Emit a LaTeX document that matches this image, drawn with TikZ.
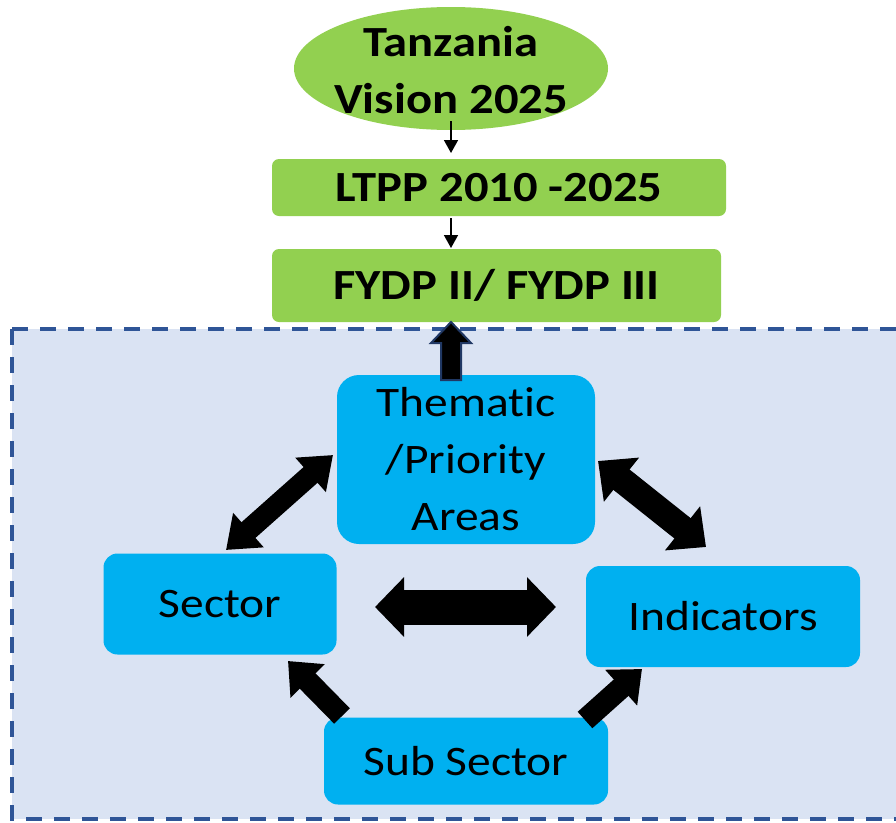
\documentclass[tikz,border=0pt]{standalone}
\usepackage{fontspec}
\setmainfont{Carlito}[FakeStretch=1.13,Ligatures=NoCommon]
\usetikzlibrary{arrows.meta,shapes.geometric,positioning}
\definecolor{greenf}{HTML}{92D050}
\definecolor{bluef}{HTML}{00B0F0}
\definecolor{bgf}{HTML}{DAE3F3}
\definecolor{dashc}{HTML}{2F5597}
\definecolor{outl}{HTML}{203864}
\begin{document}
\begin{tikzpicture}[x=1pt,y=-1pt,
  greenbox/.style={draw=none,fill=greenf,rounded corners=7pt,inner sep=0pt,font=\fontsize{43}{52}\selectfont\bfseries},
  bluebox/.style={draw=none,fill=bluef,rounded corners=22pt,inner sep=0pt,align=center,font=\fontsize{42}{57}\selectfont},
  thin arrow/.style={draw=black,line width=1.6pt,-{Triangle[length=13pt,width=14pt]}},
  blockdbl/.style={draw=black,line width=#1,{Triangle[length=30pt,width=2.1*#1]}-{Triangle[length=30pt,width=2.1*#1]}},
  blocksgl/.style={draw=black,line width=#1,-{Triangle[length=28pt,width=2.1*#1]}},
  dashborder/.style={dashc,line width=3.5pt,dash pattern=on 16pt off 12pt,line join=miter}
]
\useasboundingbox (0,0) rectangle (896,822);
\fill[white] (0,0) rectangle (896,822);
% background dashed region
\path[fill=bgf] (12,329) rectangle (900,819);
\draw[dashborder] (12,329) -- (900,329);
\draw[dashborder] (12,329) -- (12,819) -- (900,819);
% top nodes
\node[ellipse,fill=greenf,minimum width=314pt,minimum height=123pt,inner sep=0pt] (vision) at (451,68.5) {};
\node[inner sep=0pt,align=center,font=\fontsize{43}{57}\selectfont\bfseries] (visiontext) at ([yshift=-2pt]vision.center) {Tanzania\\Vision 2025};
\node[greenbox,minimum width=454pt,minimum height=57pt] (ltpp) at (499,187.5) {LTPP 2010 -2025};
\node[greenbox,minimum width=449pt,minimum height=73pt] (fydp) at (496.5,285.5) {FYDP II/ FYDP III};
% blue nodes
\node[bluebox,minimum width=258pt,minimum height=169pt] (theme) at (466,459.5) {Thematic\\/Priority\\Areas};
\node[bluebox,minimum width=233pt,minimum height=101pt,rounded corners=14pt] (sector) at (220,604) {Sector};
\node[bluebox,minimum width=274pt,minimum height=101pt,rounded corners=14pt] (indic) at (723,616.5) {Indicators};
\node[bluebox,minimum width=284pt,minimum height=87pt,rounded corners=14pt] (sub) at (466,761) {Sub Sector};
% thin arrows
\coordinate (a1s) at (451,121); \coordinate (a1e) at (451,153);
\coordinate (a2s) at (451,218); \coordinate (a2e) at (451,248);
\draw[thin arrow] (a1s) -- (a1e);
\draw[thin arrow] (a2s) -- (a2e);
% up block arrow
\coordinate (upb) at (451,380); \coordinate (upt) at (451,322);
\filldraw[fill=black,draw=outl,line width=2pt,line join=miter]
  (441,380) -- (441,343) -- (431,343) -- (451,322) -- (471,343) -- (461,343) -- (461,380) -- cycle;
% block arrows
\coordinate (ts1) at (333,455); \coordinate (ts2) at (226,550);
\draw[blockdbl=21pt] (ts2) -- (ts1);
\coordinate (ti1) at (598,461); \coordinate (ti2) at (706,547);
\draw[blockdbl=26pt] (ti1) -- (ti2);
\coordinate (si1) at (375,607); \coordinate (si2) at (556,607);
\draw[draw=black,line width=35pt,{Triangle[length=29pt,width=58pt]}-{Triangle[length=29pt,width=58pt]}] (si1) -- (si2);
\coordinate (ss1) at (342,716); \coordinate (ss2) at (288,661);
\draw[blocksgl=22pt] (ss1) -- (ss2);
\coordinate (si3) at (585,720); \coordinate (si4) at (642,669);
\draw[blocksgl=22pt] (si3) -- (si4);
\end{tikzpicture}
\end{document}
